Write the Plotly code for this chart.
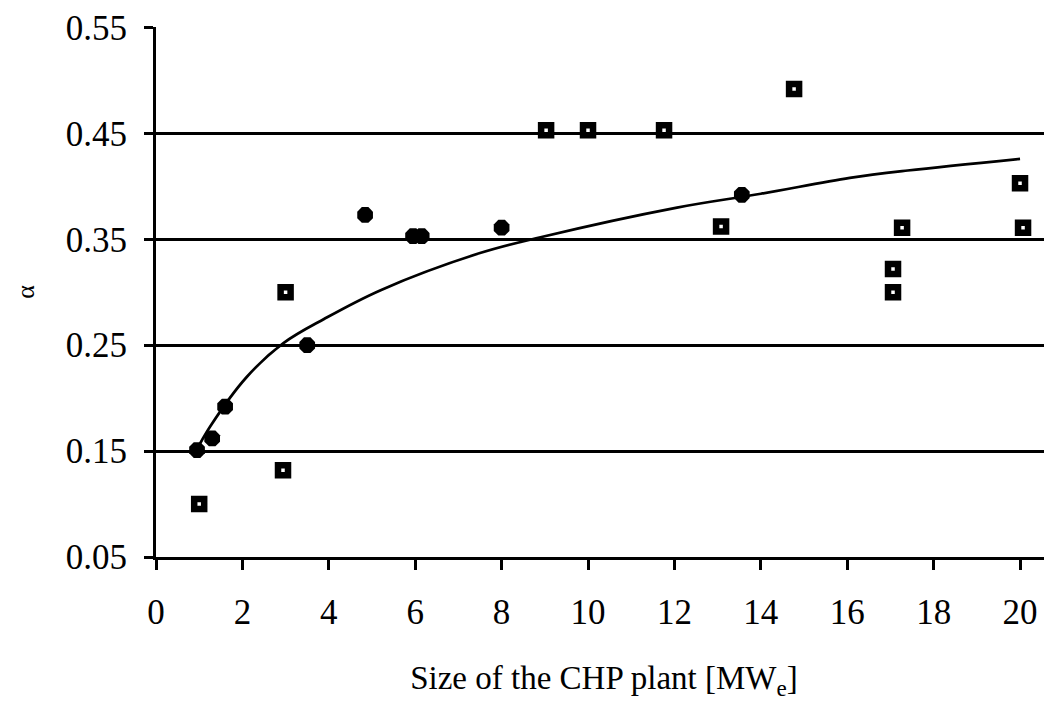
import plotly.graph_objects as go

# Data
filled_x = [0.95, 1.3, 1.6, 3.5, 4.84, 5.95, 6.15, 8.0, 13.56]
filled_y = [0.151, 0.162, 0.192, 0.25, 0.373, 0.353, 0.353, 0.361, 0.392]

open_x = [1.0, 2.94, 3.0, 9.03, 10.0, 11.76, 14.77, 13.08, 17.27, 20.07, 17.06, 17.06, 20.0]
open_y = [0.10, 0.132, 0.30, 0.453, 0.453, 0.453, 0.492, 0.362, 0.361, 0.361, 0.322, 0.30, 0.403]

trend_x = [0.9, 1.25, 2.1, 2.95, 3.9, 5.2, 7.5, 8.9, 12.06, 14.0, 16.06, 17.4, 20.0]
trend_y = [0.148, 0.173, 0.220, 0.252, 0.275, 0.302, 0.337, 0.352, 0.380, 0.393, 0.408, 0.415, 0.426]

x_ticks = [0, 2, 4, 6, 8, 10, 12, 14, 16, 18, 20]
y_ticks = [0.05, 0.15, 0.25, 0.35, 0.45, 0.55]
y_tick_labels = ["0.05", "0.15", "0.25", "0.35", "0.45", "0.55"]

FONT = "Liberation Serif"

fig = go.Figure()
fig.add_trace(go.Scatter(
    x=trend_x, y=trend_y, mode="lines", line=dict(color="black", width=2.7, shape="spline"),
    hoverinfo="skip", showlegend=False))
fig.add_trace(go.Scatter(
    x=filled_x, y=filled_y, mode="markers",
    marker=dict(symbol="octagon", size=17, color="black", line=dict(width=0)),
    showlegend=False))
fig.add_trace(go.Scatter(
    x=open_x, y=open_y, mode="markers",
    marker=dict(symbol="square-open", size=10, color="black", line=dict(width=6.5, color="black")),
    showlegend=False))

fig.update_layout(
    width=1044, height=697,
    margin=dict(l=148, r=0, t=19, b=148, autoexpand=False),
    paper_bgcolor="white", plot_bgcolor="white",
    font=dict(family=FONT, color="black", size=35),
    showlegend=False,
)
fig.update_xaxes(
    range=[0, 20.74], tickvals=x_ticks, ticktext=[str(v) for v in x_ticks],
    showgrid=False, zeroline=False,
    showline=True, linecolor="black", linewidth=3,
    ticks="outside", ticklen=10, tickwidth=3, tickcolor="black",
    tickfont=dict(family=FONT, size=35, color="black"),
    ticklabelstandoff=12,
    title=dict(text="Size of the CHP plant [MW<sub>e</sub>]", font=dict(family=FONT, size=33, color="black"), standoff=35),
)
fig.update_yaxes(
    range=[0.05, 0.5505], tickvals=y_ticks, ticktext=y_tick_labels,
    showgrid=True, gridcolor="black", gridwidth=3, zeroline=False,
    showline=True, linecolor="black", linewidth=3,
    ticks="outside", ticklen=9, tickwidth=3, tickcolor="black",
    tickfont=dict(family=FONT, size=35, color="black"),
    ticklabelstandoff=10,
    title=dict(text="α", font=dict(family=FONT, size=26, color="black"), standoff=24),
)

fig.write_html("out.html")
